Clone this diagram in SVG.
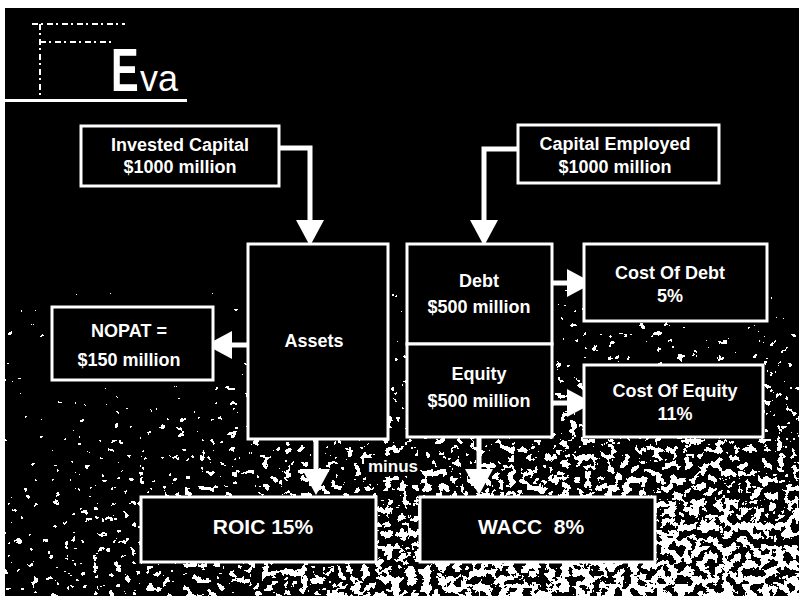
<svg xmlns="http://www.w3.org/2000/svg" width="799" height="596" viewBox="0 0 799 596">
<style>
.box{fill:#000;stroke:#fff;stroke-width:3}
.t{font-family:"Liberation Sans",Arial,sans-serif;font-weight:bold;font-size:18px;fill:#fff;text-anchor:middle}
.big{font-size:21px}
.con{fill:none;stroke:#fff;stroke-width:5}
.dec{fill:none;stroke:#fff;stroke-width:2;stroke-dasharray:6 3 2 4}
</style>
<defs>
<marker id="ah" viewBox="0 0 26 28" refX="0" refY="14" markerWidth="26" markerHeight="28" markerUnits="userSpaceOnUse" orient="auto">
<path d="M0,0 L26,14 L0,28 z" fill="#fff"/>
</marker>
<radialGradient id="dens" gradientUnits="userSpaceOnUse" cx="0" cy="0" r="1" gradientTransform="translate(640 630) scale(760 340)">
<stop offset="0" stop-color="rgb(84,84,84)"/>
<stop offset="0.35" stop-color="rgb(74,74,74)"/>
<stop offset="0.6" stop-color="rgb(46,46,46)"/>
<stop offset="0.85" stop-color="rgb(20,20,20)"/>
<stop offset="1" stop-color="#000"/>
</radialGradient>
<filter id="speck" x="0" y="0" width="1" height="1" color-interpolation-filters="sRGB">
<feTurbulence type="fractalNoise" baseFrequency="0.13" numOctaves="3" seed="11" result="n"/>
<feColorMatrix in="n" type="matrix" values="1 0 0 0 0  0 1 0 0 0  0 0 1 0 0  0 0 0 0 1" result="no"/>
<feComposite in="no" in2="SourceGraphic" operator="arithmetic" k1="0" k2="1" k3="1" k4="0" result="sum"/>
<feColorMatrix in="sum" type="matrix" values="0 0 0 0 1  0 0 0 0 1  0 0 0 0 1  1 0 0 0 0" result="a"/>
<feComponentTransfer in="a"><feFuncA type="discrete" tableValues="0 0 0 0 1"/></feComponentTransfer>
</filter>
</defs>
<rect x="0" y="0" width="799" height="596" fill="#fff"/>
<rect x="5" y="8" width="794" height="588" fill="#000"/>
<rect x="5" y="290" width="794" height="306" fill="url(#dens)" filter="url(#speck)"/>

<g id="title">
<path class="dec" d="M32,24 H125 M40,42 H115 M40,24 V95"/>
<text x="111" y="91" font-family="Liberation Sans,Arial,sans-serif" font-weight="bold" font-size="61" fill="#fff" transform="translate(111 91) scale(0.68 1) translate(-111 -91)">E</text>
<text x="140" y="91" font-family="Liberation Sans,Arial,sans-serif" font-size="36" fill="#fff">va</text>
<rect x="5" y="99" width="182" height="3" fill="#fff"/>
</g>

<g id="connectors">
<path class="con" d="M279,148 H310 V220" marker-end="url(#ah)"/>
<path class="con" d="M518,149 H484 V220" marker-end="url(#ah)"/>
<path class="con" d="M248,345 H232" marker-end="url(#ah)"/>
<path class="con" d="M552,283 H567" marker-end="url(#ah)"/>
<path class="con" d="M552,403 H567" marker-end="url(#ah)"/>
<path class="con" d="M316,439 V469" marker-end="url(#ah)"/>
<path class="con" d="M479,437 V469" marker-end="url(#ah)"/>
</g>

<g id="invested-capital">
<rect class="box" x="81" y="126" width="198" height="60"/>
<text class="t" x="180" y="151">Invested Capital</text>
<text class="t" x="180" y="173">$1000 million</text>
</g>

<g id="capital-employed">
<rect class="box" x="518" y="125" width="201" height="58"/>
<text class="t" x="615" y="150">Capital Employed</text>
<text class="t" x="615" y="173">$1000 million</text>
</g>

<g id="assets">
<rect class="box" x="248" y="244" width="140" height="195"/>
<text class="t" x="314" y="347">Assets</text>
</g>

<g id="nopat">
<rect class="box" x="52" y="307" width="161" height="73"/>
<text class="t" x="129" y="337">NOPAT =</text>
<text class="t" x="129" y="366">$150 million</text>
</g>

<g id="debt">
<rect class="box" x="407" y="244" width="145" height="100"/>
<text class="t" x="479" y="287">Debt</text>
<text class="t" x="479" y="313">$500 million</text>
</g>

<g id="equity">
<rect class="box" x="407" y="344" width="145" height="93"/>
<text class="t" x="479" y="380">Equity</text>
<text class="t" x="479" y="407">$500 million</text>
</g>

<g id="cost-of-debt">
<rect class="box" x="584" y="244" width="183" height="77"/>
<text class="t" x="670" y="279">Cost Of Debt</text>
<text class="t" x="670" y="302">5%</text>
</g>

<g id="cost-of-equity">
<rect class="box" x="584" y="365" width="179" height="72"/>
<text class="t" x="675" y="397">Cost Of Equity</text>
<text class="t" x="675" y="420">11%</text>
</g>

<g id="minus">
<rect x="364" y="458" width="56" height="18" fill="#000"/>
<text class="t" x="368" y="472" style="text-anchor:start;font-size:17px">minus</text>
</g>

<g id="roic">
<rect class="box" x="141" y="497" width="235" height="65"/>
<text class="t big" x="263" y="534">ROIC 15%</text>
</g>

<g id="wacc">
<rect class="box" x="420" y="497" width="235" height="65"/>
<text class="t big" x="531" y="534" xml:space="preserve">WACC  8%</text>
</g>
</svg>
